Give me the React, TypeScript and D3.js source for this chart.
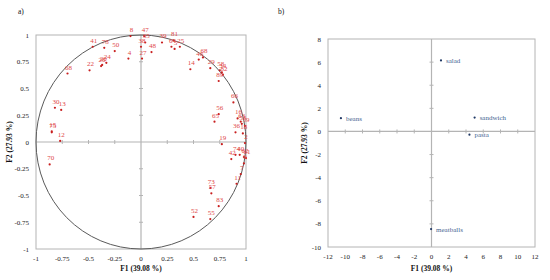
import * as d3 from "d3";
import { useEffect, useRef } from "react";

// panel a: variable coordinates on F1/F2 (correlation circle)
const varLabels = [
  "8", "41", "78", "50", "4", "22", "20", "26", "24", "68", "30", "13", "75", "15", "12", "70",
  "47", "38", "35", "27", "48", "39", "81", "64", "5", "25", "46", "68", "14", "29",
  "58", "34", "82", "89", "66", "56", "65", "16", "63", "53", "59", "36", "19", "18", "2",
  "74", "40", "42", "62", "61", "9", "7", "11", "73", "57", "83", "52", "55",
];
const varF1 = [
  -0.1, -0.46, -0.35, -0.25, -0.12, -0.49, -0.37, -0.38, -0.33, -0.7, -0.82, -0.76, -0.85, -0.85, -0.77, -0.87,
  0.03, 0.0, 0.04, 0.01, 0.1, 0.2, 0.31, 0.29, 0.32, 0.37, 0.55, 0.59, 0.47, 0.66,
  0.75, 0.77, 0.78, 0.74, 0.88, 0.74, 0.7, 0.92, 0.95, 0.96, 0.99, 0.9, 0.77, 0.97, 0.99,
  0.9, 0.94, 0.86, 0.98, 1.0, 0.98, 0.95, 0.91, 0.66, 0.67, 0.74, 0.5, 0.66,
];
const varF2 = [
  0.99, 0.89, 0.88, 0.85, 0.78, 0.67, 0.72, 0.71, 0.74, 0.64, 0.32, 0.3, 0.09, 0.1, 0.01, -0.21,
  0.99, 0.89, 0.93, 0.78, 0.84, 0.93, 0.95, 0.89, 0.87, 0.89, 0.77, 0.79, 0.68, 0.69,
  0.67, 0.65, 0.63, 0.57, 0.37, 0.26, 0.19, 0.22, 0.19, 0.17, 0.15, 0.09, -0.02, 0.08, -0.01,
  -0.12, -0.12, -0.16, -0.14, -0.15, -0.2, -0.3, -0.39, -0.43, -0.48, -0.6, -0.7, -0.72,
];

// panel b: observations
const foods = ["beans", "salad", "sandwich", "pasta", "meatballs"];
const foodF1 = [-10.5, 1.1, 5.0, 4.4, -0.05];
const foodF2 = [1.15, 6.15, 1.2, -0.28, -8.45];

const circleTicks = [-1, -0.75, -0.5, -0.25, 0, 0.25, 0.5, 0.75, 1];
const obsXTicks = [-12, -10, -8, -6, -4, -2, 0, 2, 4, 6, 8, 10, 12];
const obsYTicks = [-10, -8, -6, -4, -2, 0, 2, 4, 6, 8];

const xTitle = "F1 (39.08 %)";
const yTitle = "F2 (27.93 %)";

const font = "'Liberation Serif', 'Times New Roman', serif";
const gridColor = "#b4b4b4";

export default function App() {
  const svgRef = useRef<SVGSVGElement | null>(null);

  useEffect(() => {
    if (!svgRef.current) return;
    const svg = d3.select(svgRef.current);
    svg.selectAll("*").remove();

    svg.append("rect").attr("width", 550).attr("height", 280).attr("fill", "#ffffff");

    const xa = d3.scaleLinear().domain([-1, 1]).range([36, 246]);
    const ya = d3.scaleLinear().domain([-1, 1]).range([249, 35]);
    const xb = d3.scaleLinear().domain([-12, 12]).range([328, 535]);
    const yb = d3.scaleLinear().domain([-10, 8]).range([247, 39]);

    drawFrame(svg, xa, ya, circleTicks, circleTicks, 29, 9, "a)", 18);
    drawFrame(svg, xb, yb, obsXTicks, obsYTicks, 321, 304, "b)", 278);

    // correlation circle
    const a = svg.append("g");
    a.append("ellipse")
      .attr("cx", xa(0))
      .attr("cy", ya(0))
      .attr("rx", xa(1) - xa(0))
      .attr("ry", ya(0) - ya(1))
      .attr("fill", "none")
      .attr("stroke", "#5a5a5a")
      .attr("stroke-width", 1);

    const vars = varLabels.map((label, i) => ({ label, x: varF1[i], y: varF2[i] }));
    a.selectAll("circle.v")
      .data(vars)
      .join("circle")
      .attr("class", "v")
      .attr("cx", (d) => xa(d.x))
      .attr("cy", (d) => ya(d.y))
      .attr("r", 1.1)
      .attr("fill", "#c81e1e");
    a.selectAll("text.v")
      .data(vars)
      .join("text")
      .attr("class", "v")
      .attr("x", (d) => xa(d.x) + 1)
      .attr("y", (d) => ya(d.y) - 4)
      .attr("text-anchor", "middle")
      .attr("fill", "#e04848")
      .style("font-family", font)
      .style("font-size", "7px")
      .text((d) => d.label);

    // observations
    const obs = foods.map((label, i) => ({ label, x: foodF1[i], y: foodF2[i] }));
    const b = svg.append("g");
    b.selectAll("circle")
      .data(obs)
      .join("circle")
      .attr("cx", (d) => xb(d.x))
      .attr("cy", (d) => yb(d.y))
      .attr("r", 1.1)
      .attr("fill", "#1f3864");
    b.selectAll("text")
      .data(obs)
      .join("text")
      .attr("x", (d) => xb(d.x) + 5)
      .attr("y", (d) => yb(d.y) + 2.5)
      .attr("fill", "#3f6491")
      .style("font-family", font)
      .style("font-size", "7px")
      .text((d) => d.label);
  }, []);

  return (
    <svg
      ref={svgRef}
      width={550}
      height={280}
      style={{ position: "absolute", left: 0, top: 0, display: "block" }}
    />
  );
}

function drawFrame(
  svg: d3.Selection<SVGSVGElement, unknown, null, undefined>,
  x: d3.ScaleLinear<number, number>,
  y: d3.ScaleLinear<number, number>,
  xTicks: number[],
  yTicks: number[],
  yLabelX: number,
  yTitleX: number,
  tag: string,
  tagX: number
) {
  const [x0, x1] = x.range();
  const [y0, y1] = y.range();
  const g = svg.append("g");

  g.append("rect")
    .attr("x", x0)
    .attr("y", y1)
    .attr("width", x1 - x0)
    .attr("height", y0 - y1)
    .attr("fill", "none")
    .attr("stroke", gridColor)
    .attr("stroke-width", 1);

  // zero lines with small ticks
  g.append("line")
    .attr("x1", x0).attr("x2", x1)
    .attr("y1", y(0)).attr("y2", y(0))
    .attr("stroke", gridColor).attr("stroke-width", 1.2);
  g.append("line")
    .attr("x1", x(0)).attr("x2", x(0))
    .attr("y1", y1).attr("y2", y0)
    .attr("stroke", gridColor).attr("stroke-width", 1.2);

  g.selectAll("line.xt")
    .data(xTicks.slice(1, -1).filter((t) => t !== 0))
    .join("line")
    .attr("class", "xt")
    .attr("x1", (t) => x(t)).attr("x2", (t) => x(t))
    .attr("y1", y(0) - 2).attr("y2", y(0) + 2)
    .attr("stroke", gridColor);
  g.selectAll("line.yt")
    .data(yTicks.slice(1, -1).filter((t) => t !== 0))
    .join("line")
    .attr("class", "yt")
    .attr("x1", x(0) - 2).attr("x2", x(0) + 2)
    .attr("y1", (t) => y(t)).attr("y2", (t) => y(t))
    .attr("stroke", gridColor);

  g.selectAll("text.xl")
    .data(xTicks)
    .join("text")
    .attr("class", "xl")
    .attr("x", (t) => x(t))
    .attr("y", y0 + 12)
    .attr("text-anchor", "middle")
    .attr("fill", "#222")
    .style("font-family", font)
    .style("font-size", "7px")
    .text((t) => String(t));
  g.selectAll("text.yl")
    .data(yTicks)
    .join("text")
    .attr("class", "yl")
    .attr("x", yLabelX)
    .attr("y", (t) => y(t) + 2.5)
    .attr("text-anchor", "end")
    .attr("fill", "#222")
    .style("font-family", font)
    .style("font-size", "7px")
    .text((t) => String(t));

  g.append("text")
    .attr("x", (x0 + x1) / 2)
    .attr("y", 271)
    .attr("text-anchor", "middle")
    .attr("fill", "#111")
    .style("font-family", font)
    .style("font-size", "7.5px")
    .style("font-weight", "bold")
    .text(xTitle);
  g.append("text")
    .attr("transform", `translate(${yTitleX + 2.5}, ${(y0 + y1) / 2}) rotate(-90)`)
    .attr("text-anchor", "middle")
    .attr("fill", "#111")
    .style("font-family", font)
    .style("font-size", "7.5px")
    .style("font-weight", "bold")
    .text(yTitle);

  g.append("text")
    .attr("x", tagX)
    .attr("y", 14)
    .attr("fill", "#111")
    .style("font-family", font)
    .style("font-size", "7.5px")
    .text(tag);
}
